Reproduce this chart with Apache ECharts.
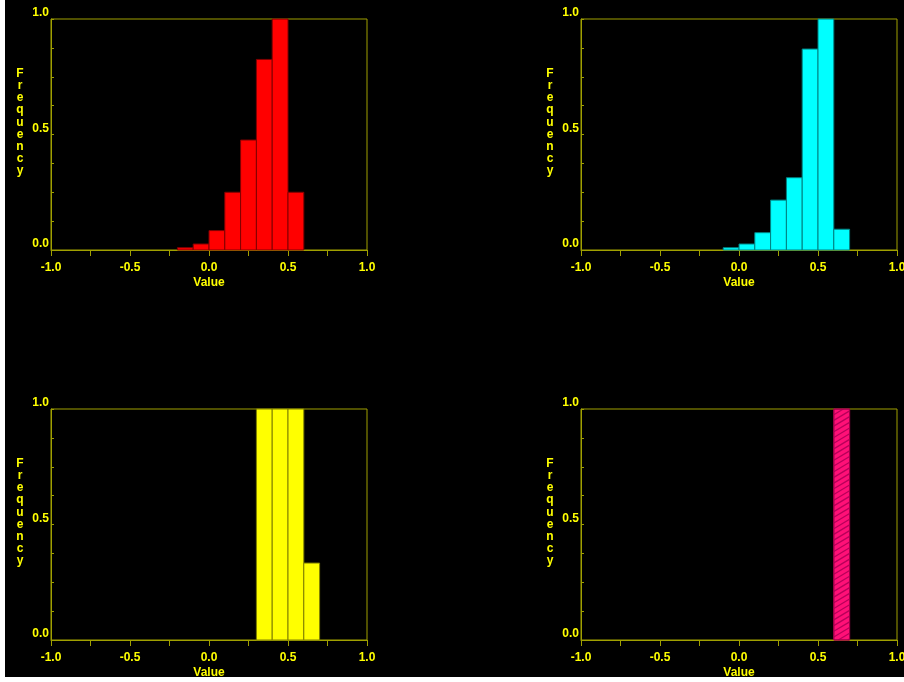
<!DOCTYPE html>
<html>
<head>
<meta charset="utf-8">
<script src="https://cdn.jsdelivr.net/npm/echarts@6/dist/echarts.min.js"></script>
<style>
  html, body { margin: 0; padding: 0; background: #ffffff; }
  #chart { position: absolute; left: 5px; top: 0px; width: 899px; height: 677px; background: #000000; }
</style>
</head>
<body>
<div id="chart"></div>
<script>
// ---- Data ----
const binWidth = 0.1;
const redBinStart = [-0.2, -0.1, 0.0, 0.1, 0.2, 0.3, 0.4, 0.5];
const redFreq     = [0.01, 0.026, 0.084, 0.25, 0.476, 0.825, 1.0, 0.25];
const cyanBinStart = [-0.1, 0.0, 0.1, 0.2, 0.3, 0.4, 0.5, 0.6];
const cyanFreq     = [0.01, 0.026, 0.075, 0.216, 0.313, 0.87, 1.0, 0.09];
const yellowBinStart = [0.3, 0.4, 0.5, 0.6];
const yellowFreq     = [1.0, 1.0, 1.0, 0.333];
const magentaBinStart = [0.6];
const magentaFreq     = [1.0];
const xTickLabels = ['-1.0', '-0.5', '0.0', '0.5', '1.0'];
const yTickLabels = ['0.0', '0.5', '1.0'];
const xName = 'Value';
const yName = 'Frequency';

// ---- Styling ----
const frameColor = '#A0A000';
const textColor = '#FFFF00';
const font = 'Liberation Sans';

const panels = [
  { start: redBinStart, freq: redFreq, fill: '#FF0000', edge: '#800000', hatch: false },
  { start: cyanBinStart, freq: cyanFreq, fill: '#00FFFF', edge: '#008080', hatch: false },
  { start: yellowBinStart, freq: yellowFreq, fill: '#FFFF00', edge: '#808000', hatch: false },
  { start: magentaBinStart, freq: magentaFreq, fill: '#FF1077', edge: '#A0004A', hatch: true }
];

const gridPos = [
  { left: 46, top: 19 },
  { left: 576, top: 19 },
  { left: 46, top: 409 },
  { left: 576, top: 409 }
];

function isHalf(v) { return Math.abs(v * 2 - Math.round(v * 2)) < 1e-9; }
function xFmt(v) {
  if (!isHalf(v)) return '';
  const s = v.toFixed(1);
  return xTickLabels.indexOf(s) >= 0 ? s : '';
}
function yFmt(v) {
  if (!isHalf(v)) return '';
  const s = v.toFixed(1);
  return yTickLabels.indexOf(s) >= 0 ? s : '';
}

const grids = [], xAxes = [], yAxes = [], series = [];
panels.forEach((p, i) => {
  grids.push({
    left: gridPos[i].left, top: gridPos[i].top, width: 316, height: 231,
    outerBoundsMode: 'none', containLabel: false,
    show: true, borderColor: frameColor, borderWidth: 1, backgroundColor: '#000000'
  });
  xAxes.push({
    type: 'value', gridIndex: i, min: -1, max: 1, interval: 0.25,
    name: xName, nameLocation: 'middle', nameGap: 27,
    nameTextStyle: { color: textColor, fontFamily: font, fontWeight: 'bold', fontSize: 12 },
    axisLine: { show: true, onZero: false, lineStyle: { color: frameColor, width: 1 } },
    axisTick: { show: true, inside: false, length: 6, lineStyle: { color: frameColor, width: 1 } },
    axisLabel: { show: true, color: textColor, fontFamily: font, fontWeight: 'bold', fontSize: 12, margin: 12, formatter: xFmt, showMinLabel: true, showMaxLabel: true },
    splitLine: { show: false }
  });
  yAxes.push({
    type: 'value', gridIndex: i, min: 0, max: 1, interval: 0.125,
    name: yName.split('').join('\n') + '\n\n', nameLocation: 'middle', nameGap: 31, nameRotate: 0,
    nameTextStyle: { color: textColor, fontFamily: font, fontWeight: 'bold', fontSize: 12, lineHeight: 12.2, align: 'center', verticalAlign: 'middle' },
    axisLine: { show: true, onZero: false, lineStyle: { color: frameColor, width: 1 } },
    axisTick: { show: true, inside: true, length: 3, lineStyle: { color: frameColor, width: 1 } },
    axisLabel: { show: true, color: textColor, fontFamily: font, fontWeight: 'bold', fontSize: 12, margin: 2, verticalAlign: 'bottom', lineHeight: 12, formatter: yFmt, showMinLabel: true, showMaxLabel: true },
    splitLine: { show: false }
  });
  const data = p.start.map((s, k) => [s, p.freq[k]]);
  series.push({
    type: 'custom', xAxisIndex: i, yAxisIndex: i, data: data,
    renderItem: function (params, api) {
      const x0 = api.value(0);
      const v = api.value(1);
      const pA = api.coord([x0, 0]);
      const pB = api.coord([x0 + binWidth, v]);
      const rx = pA[0], ry = pB[1], rw = pB[0] - pA[0], rh = pA[1] - pB[1];
      const children = [{
        type: 'rect',
        shape: { x: rx, y: ry, width: rw, height: rh },
        style: { fill: p.fill, stroke: p.edge, lineWidth: 1 }
      }];
      if (p.hatch) {
        const k = 0.6, step = 5.7;
        const yTop = ry, yBot = ry + rh, x1 = rx + rw;
        for (let b = yTop; b <= yBot + k * rw; b += step) {
          const xs = Math.max(rx, rx + (b - yBot) / k);
          const xe = Math.min(x1, rx + (b - yTop) / k);
          if (xe > xs) {
            children.push({
              type: 'line',
              shape: { x1: xs, y1: b - k * (xs - rx), x2: xe, y2: b - k * (xe - rx) },
              style: { stroke: '#B8005A', lineWidth: 1.3 }
            });
          }
        }
        children.push({
          type: 'rect',
          shape: { x: rx, y: ry, width: rw, height: rh },
          style: { fill: 'none', stroke: p.edge, lineWidth: 1 }
        });
      }
      return { type: 'group', children: children };
    }
  });
});

const chart = echarts.init(document.getElementById('chart'), null, { renderer: 'canvas' });
chart.setOption({
  backgroundColor: '#000000',
  animation: false,
  grid: grids,
  xAxis: xAxes,
  yAxis: yAxes,
  series: series
});
</script>
</body>
</html>
